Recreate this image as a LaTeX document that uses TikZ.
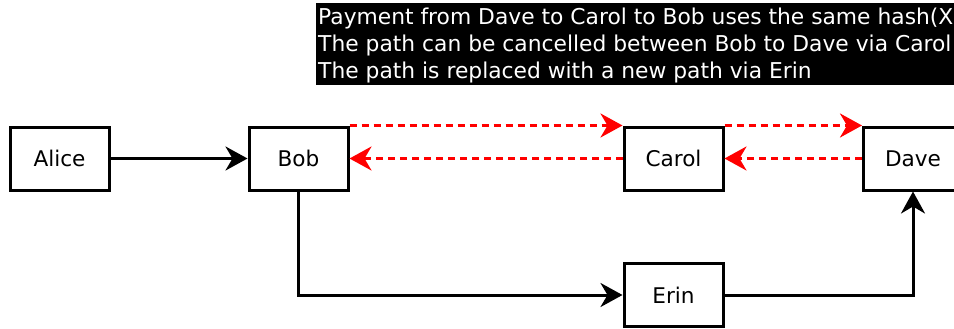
\documentclass[tikz,border=0pt]{standalone}
\usepackage{fontspec}
\setmainfont{DejaVu Sans}
\usetikzlibrary{arrows.meta}
\begin{document}
\begin{tikzpicture}[x=1pt,y=-1pt,
  person/.style={draw=black,line width=3pt,minimum width=99pt,minimum height=63pt,inner sep=0pt,
    font=\fontsize{21.6}{26}\selectfont},
  solidarrow/.style={draw=black,line width=3pt,-{Stealth[length=22pt,width=24pt,inset=7pt]}},
  redarrow/.style={draw=red,line width=3pt,dash pattern=on 7pt off 5pt,-{Stealth[length=22pt,width=24pt,inset=7pt,sep=0pt]}},
  infoline/.style={anchor=base west,text=white,inner sep=0pt,font=\fontsize{21.8}{26}\selectfont}
]
\useasboundingbox (0,0) rectangle (954,329);
\clip (0,0) rectangle (954,329);
\fill[black] (316,3) rectangle (960,85);
\node[infoline] (l1) at (318,25) {Payment from Dave to Carol to Bob uses the same hash(X};
\node[infoline] (l2) at (318,52) {The path can be cancelled between Bob to Dave via Carol};
\node[infoline] (l3) at (318,79) {The path is replaced with a new path via Erin};

\node[person] (alice) at (59.5,158.5) {Alice};
\node[person] (bob) at (298.5,158.5) {Bob};
\node[person] (carol) at (673.5,158.5) {Carol};
\node[person] (dave) at (913,158.5) {Dave};
\node[person] (erin) at (673.5,295) {Erin};

\draw[solidarrow] (alice.east) -- (bob.west);
\draw[redarrow] (bob.north east) -- (carol.north west);
\draw[redarrow] (carol.north east) -- (dave.north west);
\draw[redarrow] (carol.west) -- (bob.east);
\draw[redarrow] (dave.west) -- (carol.east);
\draw[solidarrow] (bob.south) |- (erin.west);
\draw[solidarrow] (erin.east) -| (dave.south);
\end{tikzpicture}
\end{document}
